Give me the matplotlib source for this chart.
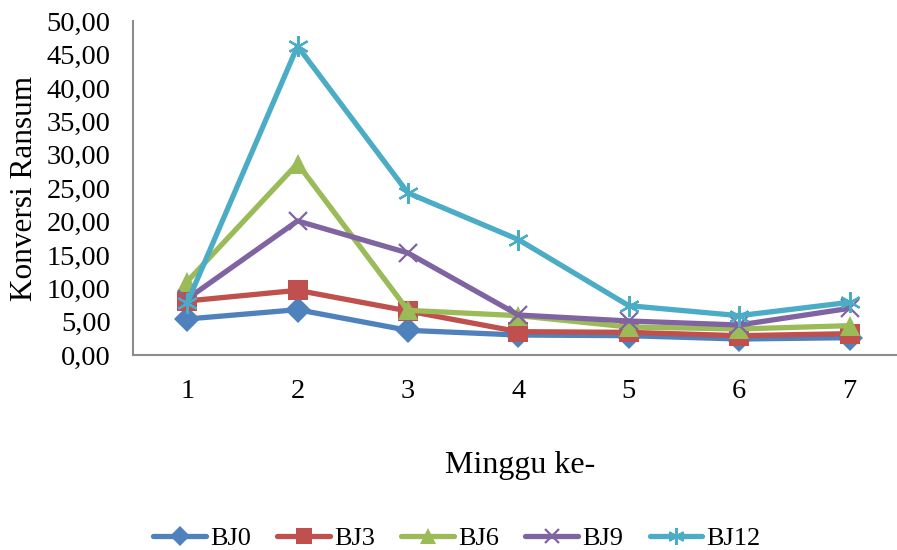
import matplotlib
matplotlib.use("Agg")
import matplotlib.pyplot as plt
from matplotlib.ticker import FuncFormatter

plt.rcParams['font.family'] = ['Liberation Serif', 'DejaVu Serif']

weeks = [1, 2, 3, 4, 5, 6, 7]
BJ0 = [5.4, 6.8, 3.7, 3.0, 2.9, 2.4, 2.6]
BJ3 = [8.1, 9.7, 6.6, 3.5, 3.4, 2.9, 3.2]
BJ6 = [11.0, 28.7, 6.7, 5.9, 4.2, 3.9, 4.4]
BJ9 = [8.4, 20.1, 15.3, 6.0, 5.1, 4.5, 7.0]
BJ12 = [7.8, 46.3, 24.3, 17.3, 7.4, 5.9, 7.9]

series = [
    ("BJ0", BJ0, "#4F81BD", "D", 13),
    ("BJ3", BJ3, "#C0504D", "s", 14),
    ("BJ6", BJ6, "#9BBB59", "^", 15),
    ("BJ9", BJ9, "#8064A2", "x", 13),
    ("BJ12", BJ12, "#4BACC6", (6, 2, 0), 15),
]

fig = plt.figure(figsize=(8.97, 5.5), dpi=100)
ax = fig.add_axes([0.1483, 0.3545, 0.8517, 0.6065])

for name, vals, col, mk, ms in series:
    kw = dict(color=col, lw=3.8, marker=mk, markersize=ms, label=name,
              solid_capstyle='round')
    if mk in ("x",) or isinstance(mk, tuple):
        kw.update(markeredgewidth=1.6, markeredgecolor=col)
    else:
        kw.update(markeredgewidth=0, markerfacecolor=col)
    ax.plot(weeks, vals, **kw)

ax.set_xlim(0.51, 7.43)
ax.set_ylim(0, 50)
ax.set_yticks([0, 5, 10, 15, 20, 25, 30, 35, 40, 45, 50])
ax.yaxis.set_major_formatter(FuncFormatter(lambda v, p: f"{v:.2f}".replace('.', ',')))
ax.set_xticks(weeks)
ax.tick_params(axis='both', length=0, labelsize=20.5, colors='black')
ax.tick_params(axis='y', pad=16)
ax.tick_params(axis='x', pad=17)
for s in ['top', 'right']:
    ax.spines[s].set_visible(False)
for s in ['left', 'bottom']:
    ax.spines[s].set_color('#8c8c8c')
    ax.spines[s].set_linewidth(1.5)

fig.text(25 / 897, 1 - 188 / 550, "Konversi Ransum", fontsize=22.5, rotation=90,
         ha='center', va='center')
fig.text(0.58, 1 - 465 / 550, "Minggu ke-", fontsize=23, ha='center', va='center')

leg = fig.legend(loc='center', bbox_to_anchor=(0.5095, 1 - 538 / 550), ncol=5,
                 frameon=False, fontsize=19, handlelength=2.0, columnspacing=1.0,
                 handletextpad=0.15, markerscale=0.8)

fig.savefig("out.png", dpi=100)
